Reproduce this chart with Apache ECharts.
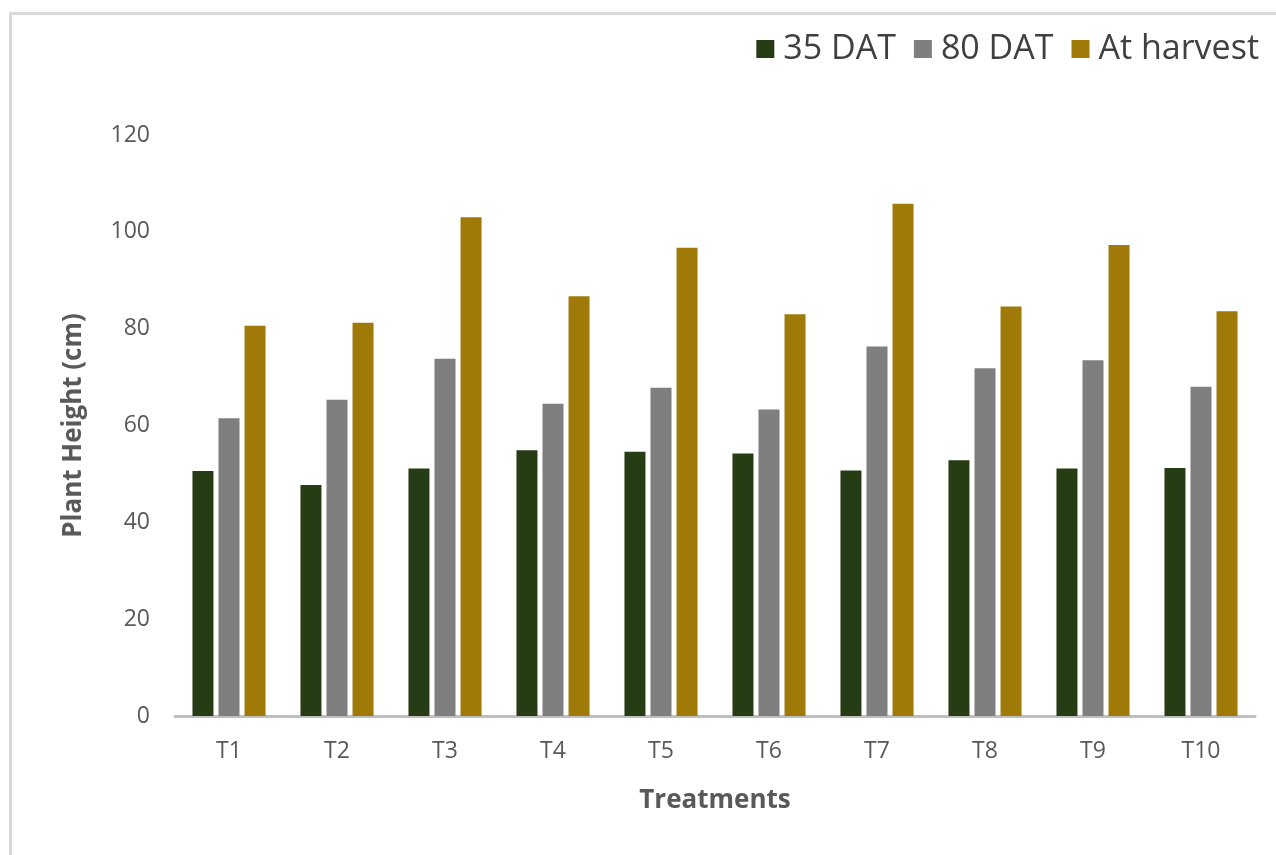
<!DOCTYPE html>
<html>
<head>
<meta charset="utf-8">
<script src="https://cdn.jsdelivr.net/npm/echarts@6/dist/echarts.min.js"></script>
<style>
    html, body { margin: 0; padding: 0; background: #fff; }
    #frame {
        position: absolute; left: 9px; top: 12px; width: 1290px; height: 870px;
        border-left: 3px solid #d9d9d9; border-top: 3px solid #d9d9d9;
    }
    #main { position: absolute; left: 0; top: 0; width: 1276px; height: 855px; }
</style>
</head>
<body>
<div id="frame"></div>
<div id="main"></div>
<script>
const treatments = ['T1', 'T2', 'T3', 'T4', 'T5', 'T6', 'T7', 'T8', 'T9', 'T10'];
const dat35 = [50.6, 47.7, 51.1, 54.9, 54.6, 54.2, 50.7, 52.8, 51.1, 51.2];
const dat80 = [61.5, 65.3, 73.8, 64.5, 67.8, 63.3, 76.3, 71.8, 73.5, 68.0];
const atHarvest = [80.6, 81.2, 103.0, 86.7, 96.7, 83.0, 105.8, 84.6, 97.3, 83.6];

const font = '"Open Sans", Lato, sans-serif';

const Init = () => {
    let myChart = echarts.init(document.getElementById('main'));
    const bar = (name, data, color) => ({
        name: name,
        type: 'bar',
        data: data,
        barWidth: 21,
        barGap: '24%',
        itemStyle: { color: color }
    });
    let option = {
        animation: false,
        textStyle: { fontFamily: font },
        legend: {
            right: 12,
            top: 27,
            itemWidth: 18,
            itemHeight: 18,
            itemGap: 18,
            icon: 'rect',
            textStyle: { fontSize: 34, color: '#404040', fontFamily: font, padding: [0, 0, 0, 4] }
        },
        grid: { left: 175, right: 21, top: 135, bottom: 139 },
        xAxis: {
            type: 'category',
            data: treatments,
            name: 'Treatments',
            nameLocation: 'middle',
            nameGap: 72,
            nameTextStyle: { fontSize: 26, fontWeight: 'bold', color: '#595959', fontFamily: font },
            axisLine: { lineStyle: { color: '#bfbfbf', width: 3 } },
            axisTick: { show: false },
            axisLabel: { fontSize: 23, color: '#595959', margin: 24, fontFamily: font }
        },
        yAxis: {
            type: 'value',
            min: 0,
            max: 120,
            interval: 20,
            name: 'Plant Height (cm)',
            nameLocation: 'middle',
            nameGap: 88,
            nameTextStyle: { fontSize: 26, fontWeight: 'bold', color: '#595959', fontFamily: font },
            axisLine: { show: false },
            axisTick: { show: false },
            splitLine: { show: false },
            axisLabel: { fontSize: 23, color: '#595959', margin: 25, fontFamily: font }
        },
        series: [
            bar('35 DAT', dat35, '#263c14'),
            bar('80 DAT', dat80, '#7f7f7f'),
            bar('At harvest', atHarvest, '#a07a08')
        ]
    };
    myChart.setOption(option);
};

Init();
</script>
</body>
</html>
